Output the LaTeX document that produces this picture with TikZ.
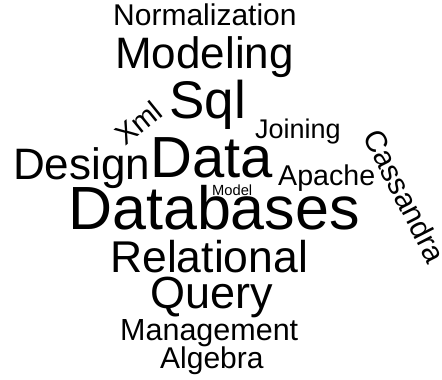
\documentclass[tikz,border=0pt]{standalone}
\usepackage{fontspec}
\setmainfont{Liberation Sans}

\begin{document}
\begin{tikzpicture}[x=1pt, y=-1pt,
	word/.style={inner sep=0pt, anchor=base west, text=black}]

\useasboundingbox (0,0) rectangle (442,380);

% Top words
\node [word,
	font=\fontsize{30}{30}\selectfont] (normalization) at (113,25) {Normalization};
\node [word,
	font=\fontsize{44}{44}\selectfont] (modeling) at (115,68) {Modeling};
\node [word,
	font=\fontsize{53}{53}\selectfont] (sql) at (169,118) {Sql};

% Rotated words
\node [inner sep=0pt,
	rotate=39,
	font=\fontsize{29}{29}\selectfont] (xml) at (138,123) {Xml};
\node [inner sep=0pt,
	rotate=-63,
	font=\fontsize{30}{30}\selectfont] (cassandra) at (405,196) {Cassandra};

% Middle rows
\node [word,
	font=\fontsize{27}{27}\selectfont] (joining) at (255,138) {Joining};
\node [word,
	font=\fontsize{44}{44}\selectfont] (design) at (13,179) {Design};
\node [word,
	font=\fontsize{58}{58}\selectfont] (data) at (150,177) {Data};
\node [word,
	font=\fontsize{28.6}{28.6}\selectfont] (apache) at (278,185) {Apache};
\node [word,
	font=\fontsize{14.7}{14.7}\selectfont] (model) at (212,195) {Model};

% Bottom words
\node [word,
	font=\fontsize{61}{61}\selectfont] (databases) at (68,229) {Databases};
\node [word,
	font=\fontsize{44.5}{44.5}\selectfont] (relational) at (110,272) {Relational};
\node [word,
	font=\fontsize{45}{45}\selectfont] (query) at (150,308) {Query};
\node [word,
	font=\fontsize{30.5}{30.5}\selectfont] (management) at (120,340) {Management};
\node [word,
	font=\fontsize{30}{30}\selectfont] (algebra) at (160,368) {Algebra};

\end{tikzpicture}
\end{document}
